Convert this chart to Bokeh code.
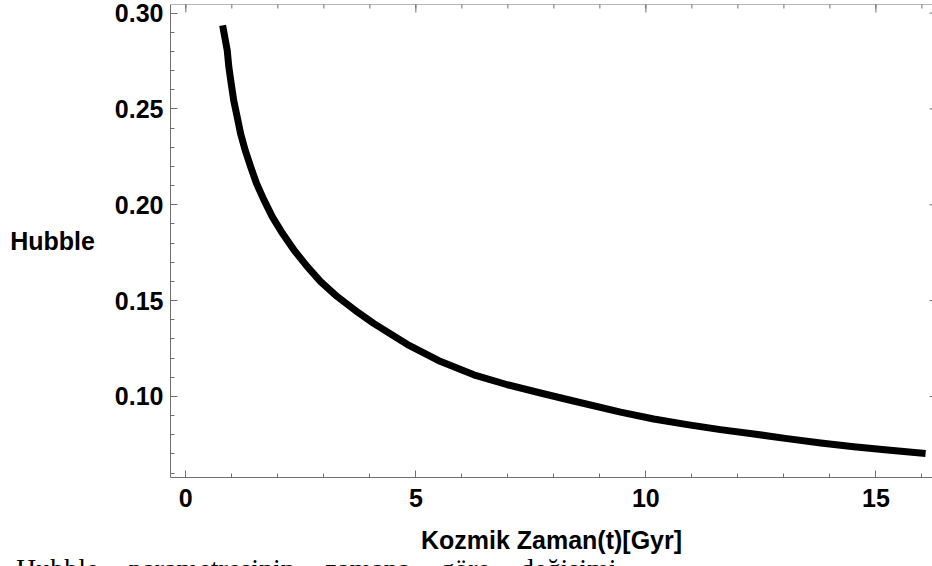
import math
from bokeh.plotting import figure
from bokeh.layouts import column
from bokeh.models import LinearAxis, FixedTicker, Range1d, Span, Div
from bokeh.embed import file_html
from bokeh.resources import INLINE

# Curve values
t_gyr = [0.80, 0.90, 0.935, 0.987, 1.04, 1.117, 1.19, 1.29, 1.41, 1.537, 1.70,
         1.878, 2.10, 2.35, 2.64, 2.93, 3.29, 3.75, 4.09, 4.81, 5.54, 6.26,
         6.99, 7.71, 8.36, 9.45, 10.17, 10.90, 11.62, 12.35, 13.07, 13.80,
         14.52, 15.25, 16.08]
hubble = [0.2936, 0.2806, 0.2719, 0.2632, 0.2545, 0.2458, 0.2372, 0.2285,
          0.2198, 0.2111, 0.2024, 0.1938, 0.1851, 0.1764, 0.1677, 0.1599,
          0.1521, 0.1437, 0.1380, 0.1272, 0.1182, 0.1113, 0.1061, 0.1018,
          0.0980, 0.0918, 0.0882, 0.0853, 0.0827, 0.0804, 0.0780, 0.0757,
          0.0737, 0.0720, 0.0702]

x_major = [0, 5, 10, 15]
x_minor = list(range(-1, 18))
y_major = [0.10, 0.15, 0.20, 0.25, 0.30]
y_minor = [round(0.05 + 0.01 * i, 2) for i in range(27)]
y_labels = {0.10: "0.10", 0.15: "0.15", 0.20: "0.20", 0.25: "0.25", 0.30: "0.30"}

x_title = "Kozmik Zaman(t)[Gyr]"
y_title = "Hubble"
caption = "Hubble parametresinin zamana göre değişimi"

FONT = "Liberation Sans"
FRAME = "#6f6f6f"

x0, x1 = -0.333, 16.23
y0, y1 = 0.0577, 0.3045

p = figure(width=932, height=566, output_backend="svg", toolbar_location=None,
           x_range=Range1d(x0, x1), y_range=Range1d(y0, y1),
           x_axis_location=None, y_axis_location=None,
           min_border_left=170, min_border_right=0, min_border_top=4,
           min_border_bottom=89)
p.outline_line_color = None
p.grid.visible = False
p.background_fill_color = "white"
p.border_fill_color = "white"

# top frame line
p.add_layout(Span(location=y1, dimension="width", line_color=FRAME, line_width=1))

# ticks on the top and right edges of the frame (clipped to the inside)
p.scatter(x_major, [y1] * len(x_major), marker="dash", angle=math.pi / 2,
          size=16, line_color=FRAME, line_width=1)
p.scatter(x_minor, [y1] * len(x_minor), marker="dash", angle=math.pi / 2,
          size=8, line_color=FRAME, line_width=1)
p.scatter([x1] * len(y_major), y_major, marker="dash", size=6,
          line_color=FRAME, line_width=1)

p.line(t_gyr, hubble, line_color="black", line_width=7, line_cap="butt",
       line_join="round")


def style(ax):
    ax.axis_line_color = FRAME
    ax.axis_line_width = 1
    ax.major_tick_line_color = FRAME
    ax.minor_tick_line_color = FRAME
    ax.major_tick_in = 7
    ax.major_tick_out = 0
    ax.minor_tick_in = 4
    ax.minor_tick_out = 0
    ax.major_label_text_font = FONT
    ax.major_label_text_font_style = "bold"
    ax.major_label_text_font_size = "25px"
    ax.major_label_text_color = "black"
    ax.axis_label_text_font = FONT
    ax.axis_label_text_font_style = "bold"
    ax.axis_label_text_font_size = "25px"
    ax.axis_label_text_color = "black"


xb = LinearAxis(ticker=FixedTicker(ticks=x_major, minor_ticks=x_minor),
                axis_label=x_title)
style(xb)
xb.major_label_standoff = 11
xb.axis_label_standoff = 16
p.add_layout(xb, "below")

yl = LinearAxis(ticker=FixedTicker(ticks=y_major, minor_ticks=y_minor),
                axis_label=y_title)
style(yl)
yl.major_label_standoff = 7
yl.axis_label_standoff = 17
yl.major_label_overrides = y_labels
try:
    yl.axis_label_orientation = "horizontal"
except Exception:
    pass
p.add_layout(yl, "left")

# caption text of the page, cut by the bottom of the window
cap = Div(text=caption, width=917, height=11, margin=(-11, 0, 0, 16),
          styles={"overflow": "hidden", "font-family": "Liberation Serif",
                  "font-size": "28px", "line-height": "1", "color": "black",
                  "white-space": "nowrap", "word-spacing": "23px",
                  "background": "transparent"})

layout = column(p, cap, spacing=0)

open("out.html", "w").write(file_html(layout, INLINE))
